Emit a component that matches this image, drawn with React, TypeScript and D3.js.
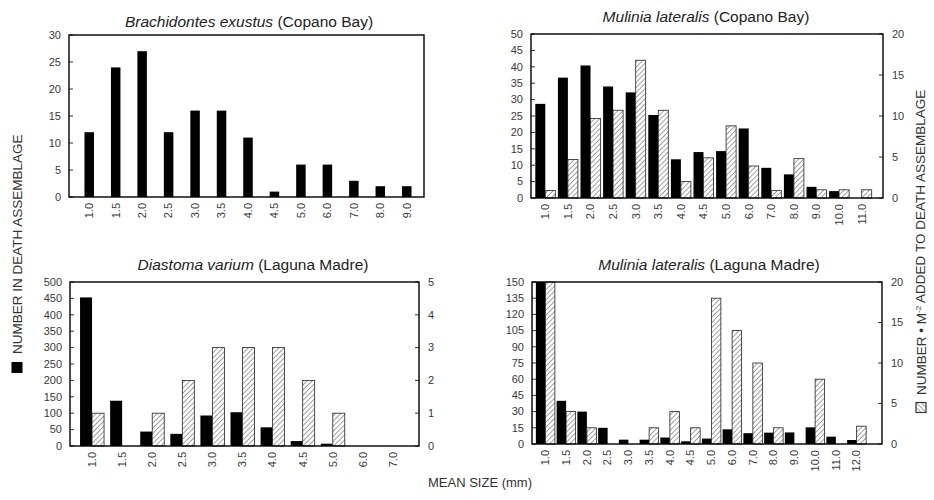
import React from 'react';
import * as d3 from 'd3';

// ---------- data ----------
const catBrach = ['1.0', '1.5', '2.0', '2.5', '3.0', '3.5', '4.0', '4.5', '5.0', '6.0', '7.0', '8.0', '9.0'];
const deathBrach = [12, 24, 27, 12, 16, 16, 11, 1, 6, 6, 3, 2, 2];

const catMulCop = ['1.0', '1.5', '2.0', '2.5', '3.0', '3.5', '4.0', '4.5', '5.0', '6.0', '7.0', '8.0', '9.0', '10.0', '11.0'];
const deathMulCop = [28.7, 36.7, 40.4, 34, 32.2, 25.3, 11.8, 14, 14.3, 21.2, 9.2, 7.2, 3.4, 2.1, 0];
const addedMulCop = [0.9, 4.7, 9.7, 10.7, 16.8, 10.7, 2, 4.9, 8.8, 3.9, 0.9, 4.8, 1, 1, 1];

const catDiast = ['1.0', '1.5', '2.0', '2.5', '3.0', '3.5', '4.0', '4.5', '5.0', '6.0', '7.0'];
const deathDiast = [453, 138, 44, 37, 93, 103, 57, 15, 7, 0, 0];
const addedDiast = [1, 0, 1, 2, 3, 3, 3, 2, 1, 0, 0];

const catMulLag = ['1.0', '1.5', '2.0', '2.5', '3.0', '3.5', '4.0', '4.5', '5.0', '6.0', '7.0', '8.0', '9.0', '10.0', '11.0', '12.0'];
const deathMulLag = [150, 40, 30, 15, 4, 4, 6, 2.5, 5, 13.6, 10, 10.5, 10.7, 15.4, 6.8, 3.7];
const addedMulLag = [20, 4, 2, 0, 0, 2, 4, 2, 18, 14, 10, 2, 0, 8, 0, 2.2];

const FONT = "'Liberation Sans', Arial, Helvetica, sans-serif";
const TICK_COLOR = '#3a3a3a';

type PanelProps = {
  box: [number, number, number, number]; // x0, x1, y0, y1
  inset: [number, number];
  barW: number;
  cats: string[];
  death: number[];
  added?: number[];
  leftMax: number;
  leftStep: number;
  rightMax?: number;
  rightStep?: number;
  titleItalic: string;
  titleRest: string;
  titleX: number;
  titleY: number;
};

function Panel(p: PanelProps) {
  const [x0, x1, y0, y1] = p.box;
  const x = d3.scaleBand<string>().domain(p.cats).range([x0 + p.inset[0], x1 - p.inset[1]]).padding(0);
  const yL = d3.scaleLinear().domain([0, p.leftMax]).range([y1, y0]);
  const yR = p.rightMax ? d3.scaleLinear().domain([0, p.rightMax]).range([y1, y0]) : null;
  const leftTicks = d3.range(0, p.leftMax + 1e-9, p.leftStep);
  const rightTicks = p.rightMax && p.rightStep ? d3.range(0, p.rightMax + 1e-9, p.rightStep) : [];
  const center = (c: string) => (x(c) as number) + x.bandwidth() / 2;
  const hasAdded = !!p.added;
  return (
    <g>
      <text x={p.titleX} y={p.titleY} textAnchor="middle" fontSize={15.5} fill="#222" fontFamily={FONT}>
        <tspan fontStyle="italic">{p.titleItalic}</tspan>
        <tspan>{' ' + p.titleRest}</tspan>
      </text>
      {/* bars */}
      {p.cats.map((c, i) => {
        const cx = center(c);
        const v = p.death[i];
        const bx = hasAdded ? cx - p.barW : cx - p.barW / 2;
        return v > 0 ? (
          <rect key={'d' + c} x={bx} y={yL(v)} width={p.barW} height={y1 - yL(v)} fill="#000" />
        ) : null;
      })}
      {hasAdded && yR &&
        p.cats.map((c, i) => {
          const cx = center(c);
          const v = (p.added as number[])[i];
          return v > 0 ? (
            <rect key={'a' + c} x={cx} y={yR(v)} width={p.barW} height={y1 - yR(v)} fill="url(#hatch)" stroke="#222" strokeWidth={0.8} />
          ) : null;
        })}
      {/* box */}
      <rect x={x0} y={y0} width={x1 - x0} height={y1 - y0} fill="none" stroke="#000" strokeWidth={1.4} />
      {/* left axis */}
      {leftTicks.map((t) => (
        <g key={'l' + t}>
          <line x1={x0} x2={x0 + 4} y1={yL(t)} y2={yL(t)} stroke="#000" strokeWidth={0.8} />
          <text x={x0 - 8} y={yL(t)} dy="0.35em" textAnchor="end" fontSize={11} fill={TICK_COLOR} fontFamily={FONT}>
            {t}
          </text>
        </g>
      ))}
      {/* right axis */}
      {yR &&
        rightTicks.map((t) => (
          <g key={'r' + t}>
            <line x1={x1 - 4} x2={x1} y1={yR(t)} y2={yR(t)} stroke="#000" strokeWidth={0.8} />
            <text x={x1 + 9} y={yR(t)} dy="0.35em" textAnchor="start" fontSize={11} fill={TICK_COLOR} fontFamily={FONT}>
              {t}
            </text>
          </g>
        ))}
      {/* x labels */}
      {p.cats.map((c) => (
        <text
          key={'x' + c}
          transform={`translate(${center(c)},${y1 + 6}) rotate(-90)`}
          dy="0.35em"
          textAnchor="end"
          fontSize={11}
          fill={TICK_COLOR}
          fontFamily={FONT}
        >
          {c}
        </text>
      ))}
    </g>
  );
}

export default function App() {
  return (
    <svg width={934} height={500} style={{ position: 'absolute', left: 0, top: 0, background: '#fff' }}>
      <defs>
        <pattern id="hatch" patternUnits="userSpaceOnUse" width={3.6} height={3.6} patternTransform="rotate(45)">
          <rect width={3.6} height={3.6} fill="#fff" />
          <line x1={0} y1={0} x2={0} y2={3.6} stroke="#444" strokeWidth={1} />
        </pattern>
      </defs>
      <rect width={934} height={500} fill="#fff" />
      <Panel
        box={[69, 424, 35, 197]}
        inset={[7, 4]}
        barW={9.5}
        cats={catBrach}
        death={deathBrach}
        leftMax={30}
        leftStep={5}
        titleItalic="Brachidontes exustus"
        titleRest="(Copano Bay)"
        titleX={249}
        titleY={27}
      />
      <Panel
        box={[531, 883, 34, 198]}
        inset={[3, 10]}
        barW={10}
        cats={catMulCop}
        death={deathMulCop}
        added={addedMulCop}
        leftMax={50}
        leftStep={5}
        rightMax={20}
        rightStep={5}
        titleItalic="Mulinia lateralis"
        titleRest=" (Copano Bay)"
        titleX={706}
        titleY={22}
      />
      <Panel
        box={[70, 419, 282, 446]}
        inset={[7, 11]}
        barW={12}
        cats={catDiast}
        death={deathDiast}
        added={addedDiast}
        leftMax={500}
        leftStep={50}
        rightMax={5}
        rightStep={1}
        titleItalic="Diastoma varium"
        titleRest="(Laguna Madre)"
        titleX={253}
        titleY={270}
      />
      <Panel
        box={[532, 882, 282, 444]}
        inset={[3, 15]}
        barW={9.5}
        cats={catMulLag}
        death={deathMulLag}
        added={addedMulLag}
        leftMax={150}
        leftStep={15}
        rightMax={20}
        rightStep={5}
        titleItalic="Mulinia lateralis"
        titleRest="(Laguna Madre)"
        titleX={709}
        titleY={270}
      />
      {/* left axis title */}
      <g transform="translate(17,373) rotate(-90)">
        <rect x={0} y={-5.5} width={11} height={11} fill="#000" />
        <text x={19} y={0} dy="0.36em" fontSize={13.5} fill="#333" fontFamily={FONT}>
          NUMBER IN DEATH ASSEMBLAGE
        </text>
      </g>
      {/* right axis title */}
      <g transform="translate(921,413) rotate(-90)">
        <rect x={0.5} y={-5} width={10} height={10} fill="url(#hatch)" stroke="#333" strokeWidth={1.2} />
        <text x={18} y={0} dy="0.36em" fontSize={13.5} fill="#333" fontFamily={FONT}>
          NUMBER • M
          <tspan fontSize={8} dy="-0.6em">-2</tspan>
          <tspan dy="0.3em"> ADDED TO DEATH ASSEMBLAGE</tspan>
        </text>
      </g>
      <text x={480} y={487} textAnchor="middle" fontSize={13} fill="#333" fontFamily={FONT}>
        MEAN SIZE  (mm)
      </text>
    </svg>
  );
}
